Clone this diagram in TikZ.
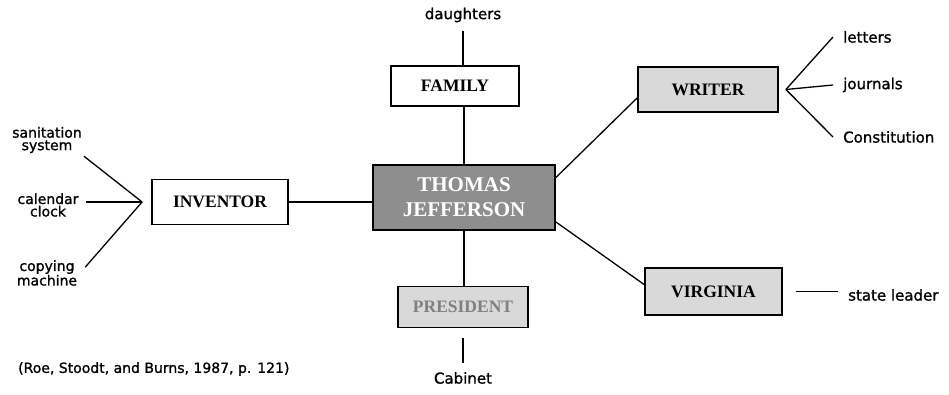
\documentclass[tikz,border=0pt]{standalone}
\usepackage{fontspec}
\setmainfont{Liberation Serif}
\newfontfamily\labelfont[FakeBold=1.2]{DejaVu Sans}
\usepackage{tikz}
\usetikzlibrary{positioning}
\definecolor{boxgray}{HTML}{D9D9D9}
\definecolor{maingray}{HTML}{8E8E8E}

\begin{document}
\begin{tikzpicture}[
  x=1pt, y=-1pt,
  role/.style={draw, line width=1.8pt, inner sep=0pt, font=\fontsize{17.5}{19}\selectfont\bfseries},
  shaded/.style={role, fill=boxgray},
  centre/.style={draw, line width=1.8pt, fill=maingray, text=white, align=center, inner sep=0pt, font=\fontsize{21}{25}\selectfont\bfseries},
  leaf/.style={inner sep=0pt, align=center, font=\labelfont\fontsize{15}{13}\selectfont},
  link/.style={line width=1.3pt}
]
\useasboundingbox (0,0) rectangle (949,395);

\node[centre, minimum width=182pt, minimum height=65pt] (jeff) at (464,197.5) {THOMAS\\JEFFERSON};
\node[role, minimum width=128pt, minimum height=40pt] (family) at (455,86) {FAMILY};
\node[shaded, minimum width=130pt, minimum height=41pt, text=gray] (pres) at (463,307) {PRESIDENT};
\node[role, minimum width=136pt, minimum height=45pt] (inventor) at (220,202) {INVENTOR};
\node[shaded, minimum width=140pt, minimum height=45pt] (writer) at (708,89.5) {WRITER};
\node[shaded, minimum width=137pt, minimum height=47pt] (virginia) at (713.5,291.5) {VIRGINIA};

\node[leaf] (daughters) at (463,15) {daughters};
\node[leaf] (cabinet) at (463,378) {Cabinet};
\node[leaf, font=\labelfont\fontsize{14}{12.5}\selectfont] (sanit) at (47,140) {sanitation\\system};
\node[leaf, font=\labelfont\fontsize{14}{12.5}\selectfont] (calendar) at (48,205) {calendar\\clock};
\node[leaf, font=\labelfont\fontsize{14}{12.5}\selectfont] (copying) at (47,273) {copying\\machine};
\node[leaf, anchor=west] (letters) at (843,37) {letters};
\node[leaf, anchor=west] (journals) at (843,85) {journals};
\node[leaf, anchor=west] (constitution) at (843,137) {Constitution};
\node[leaf, anchor=west] (leader) at (848,295) {state leader};
\node[leaf, anchor=west, font=\labelfont\fontsize{14}{15}\selectfont] (source) at (18,369) {(Roe, Stoodt, and Burns, 1987, p. 121)};

\coordinate (itip) at ([xshift=-9pt]inventor.west);
\coordinate (wtip) at ([xshift=7pt]writer.east);

\draw[link, shorten <=9pt] (daughters.south) -- (daughters.south |- family.north);
\draw[link] (jeff.north) -- (jeff.north |- family.south);
\draw[link] (jeff.south) -- (jeff.south |- pres.north);
\draw[link, shorten <=10pt, shorten >=9pt] (pres.south) -- (pres.south |- cabinet.north);
\draw[link] (inventor.east) -- (inventor.east -| jeff.west);
\draw[link] ([yshift=20pt]jeff.east) -- ([yshift=-8.5pt]writer.west);
\draw[link] ([yshift=-24.5pt]jeff.east) -- ([yshift=7pt]virginia.west);
\draw[link, shorten <=13pt, shorten >=10pt] (virginia.east) -- (virginia.east -| leader.west);

\draw[link] (itip) -- ([xshift=2pt, yshift=-3pt]sanit.south east);
\draw[link] (itip) -- ([xshift=7pt, yshift=3pt]calendar.east);
\draw[link] (itip) -- ([xshift=8pt, yshift=-7pt]copying.north east);

\draw[link] (wtip) -- ([xshift=-10pt]letters.west);
\draw[link] (wtip) -- ([xshift=-10pt]journals.west);
\draw[link] (wtip) -- ([xshift=-10pt]constitution.west);
\end{tikzpicture}
\end{document}
